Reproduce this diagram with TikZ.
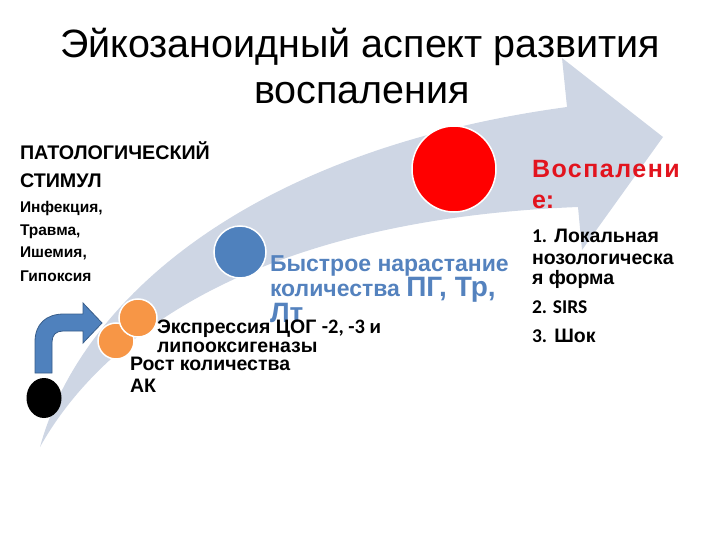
\documentclass[tikz,border=0pt]{standalone}
\usepackage{fontspec}
\setmainfont{Liberation Sans}
\newfontfamily\calfont{Carlito}
\usetikzlibrary{shapes.geometric}
\definecolor{bandc}{RGB}{206,214,228}
\definecolor{orng}{RGB}{247,150,70}
\definecolor{stblue}{RGB}{79,129,189}
\definecolor{stbluedark}{RGB}{56,93,138}
\definecolor{txtblue}{RGB}{84,130,190}
\definecolor{txtred}{RGB}{226,20,30}
\begin{document}
\begin{tikzpicture}[x=1pt,y=-1pt,
  lbl/.style={anchor=base west, inner sep=0pt, outer sep=0pt},
  dotc/.style={ellipse, inner sep=0pt, draw=white, line width=1.5pt},
  stimtxt/.style={lbl, font=\bfseries\fontsize{19.7}{19.7}\selectfont},
  smalltxt/.style={lbl, font=\bfseries\fontsize{15.5}{15.5}\selectfont},
  bluetxt/.style={lbl, text=txtblue, font=\bfseries\fontsize{23}{23}\selectfont},
  blacktxt/.style={lbl, font=\bfseries\fontsize{19.5}{19.5}\selectfont},
  redtxt/.style={lbl, text=txtred, font=\bfseries\fontsize{25}{25}\selectfont},
  listtxt/.style={lbl, font=\bfseries\fontsize{19.5}{19.5}\selectfont},
  titletxt/.style={anchor=base, inner sep=0pt, font=\fontsize{39.5}{39.5}\selectfont},
]
\useasboundingbox (0,0) rectangle (720,540);
% big curved arrow
\fill[bandc] (40,447) .. controls (80,300) and (250,150) .. (567,107)
  -- (562,58) -- (663,137) -- (582,250) -- (578,207)
  .. controls (250,220) and (100,340) .. (40,447) -- cycle;
% circles
\node[dotc, fill=black, draw=none, minimum width=35pt, minimum height=40pt] (stim) at (44,398) {};
\node[dotc, fill=orng, minimum size=36pt] (ak) at (116,341) {};
\node[dotc, fill=orng, minimum size=38pt] (cog) at (138,318) {};
\node[dotc, fill=stblue, minimum size=52pt] (pg) at (240,252) {};
\node[dotc, fill=red, minimum width=84pt, minimum height=86pt] (infl) at (454,169) {};
% bent arrow
\coordinate (ba) at (35,373);
\filldraw[fill=stblue, draw=stbluedark, line width=0.8pt]
  (ba) -- (35,342) .. controls (35,324) and (46,314) .. (64,314)
  -- (83,314) -- (83,303) -- (102,323) -- (83,343) -- (83,331)
  -- (63,331) .. controls (56,331) and (52,335) .. (52,342)
  -- (52,373) -- cycle;
% title
\node[titletxt] (title1) at (360,58) {Эйкозаноидный аспект развития};
\node[titletxt] (title2) at (362,104) {воспаления};
% left block
\node[stimtxt] (s1) at (20,160) {ПАТОЛОГИЧЕСКИЙ};
\node[stimtxt] (s2) at (20,188) {СТИМУЛ};
\node[smalltxt] (s3) at (20,213) {Инфекция,};
\node[smalltxt] (s4) at (20,236) {Травма,};
\node[smalltxt] (s5) at (20,258) {Ишемия,};
\node[smalltxt] (s6) at (20,281) {Гипоксия};
% blue text
\node[bluetxt] (b1) at (270,271) {Быстрое нарастание};
\node[bluetxt] (b2) at (270,296) {количества {\fontsize{28}{28}\selectfont ПГ, Тр,}};
\node[bluetxt] (b3) at (270,322) {\fontsize{28}{28}\selectfont Лт};
% black texts
\node[blacktxt] (e1) at (157,333) {Экспрессия ЦОГ {\calfont\fontsize{20.5}{20.5}\selectfont -2, -3 и}};
\node[blacktxt] (e2) at (157,352) {липооксигеназы};
\node[blacktxt] (r1) at (130,370) {Рост количества};
\node[blacktxt] (r2) at (130,392) {АК};
% red
\node[redtxt] (v1) at (532,178) {\addfontfeature{LetterSpace=6}Воспалени};
\node[redtxt] (v2) at (532,208) {е:};
% list
\node[listtxt] (l1) at (532,243) {{\calfont 1.} Локальная};
\node[listtxt] (l2) at (532,264) {нозологическа};
\node[listtxt] (l3) at (532,284) {я форма};
\node[listtxt] (l4) at (532,313) {\calfont 2. SIRS};
\node[listtxt] (l5) at (532,342) {{\calfont 3.} Шок};
\end{tikzpicture}
\end{document}
